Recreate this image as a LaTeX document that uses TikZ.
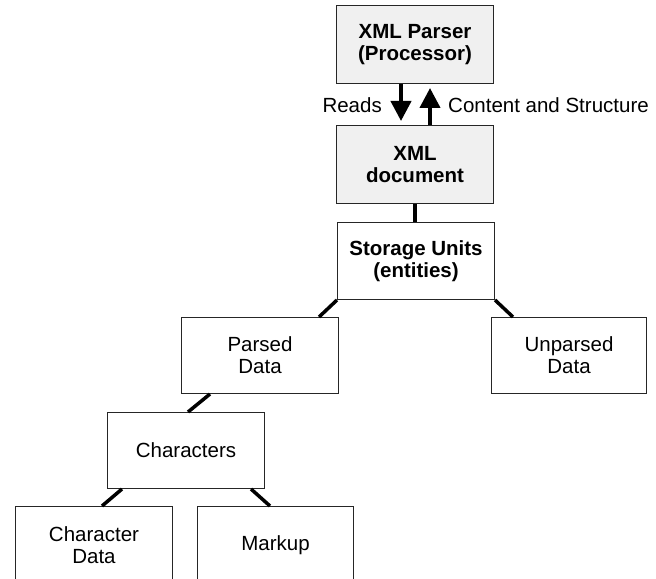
\documentclass[tikz,border=0pt]{standalone}
\usepackage{fontspec}
\setmainfont{Liberation Sans}
\usetikzlibrary{arrows.meta}
\definecolor{boxgray}{HTML}{F0F0F0}
\definecolor{edge}{HTML}{262626}
\begin{document}
\begin{tikzpicture}[x=1bp,y=-1bp,
  box/.style={draw=edge, line width=1bp, minimum width=157bp, minimum height=77bp,
    inner sep=0pt, align=center, anchor=north west,
    font=\fontsize{20.5bp}{22bp}\selectfont},
  gbox/.style={box, fill=boxgray, minimum height=78bp,
    font=\fontsize{20.5bp}{22bp}\selectfont\bfseries},
  bbox/.style={box, font=\fontsize{20.5bp}{22bp}\selectfont\bfseries},
  link/.style={line width=3.5bp},
  flow/.style={line width=4bp, -{Triangle[width=20bp,length=20bp]}, shorten >=4bp},
  lbl/.style={font=\fontsize{20.5bp}{22bp}\selectfont, inner sep=0pt}]
\clip (0,0) rectangle (656,579);
\fill[white] (0,0) rectangle (656,579);
\node[gbox] (parser) at (336,5) {XML Parser\\(Processor)};
\node[gbox] (doc) at (336,125) {XML\\document};
\node[bbox] (storage) at (337,222) {Storage Units\\(entities)};
\node[box, minimum height=76bp] (parsed) at (181,317) {Parsed\\Data};
\node[box, minimum height=76bp, minimum width=155bp] (unparsed) at (491,317) {Unparsed\\Data};
\node[box, minimum height=76bp] (chars) at (107,412) {Characters};
\node[box, minimum height=78bp] (chardata) at (15,506) {Character\\Data};
\node[box, minimum height=78bp, minimum width=156bp] (markup) at (197,506) {Markup};

\node[lbl, anchor=base east] (reads) at (382,113) {Reads};
\node[lbl, anchor=base west] (content) at (448,113) {Content and Structure};

\draw[flow] ([xshift=-14bp]parser.south) -- ([xshift=-14bp]doc.north);
\draw[flow] ([xshift=15bp]doc.north) -- ([xshift=15bp]parser.south);

\draw[link] (doc.south) -- (doc.south |- storage.north);
\draw[link] (storage.south west) -- ([xshift=-20bp]parsed.north east);
\draw[link] (storage.south east) -- ([xshift=22bp]unparsed.north west);
\draw[link] ([xshift=29bp]parsed.south west) -- ([xshift=81bp]chars.north west);
\draw[link] ([xshift=15bp]chars.south west) -- ([xshift=87bp]chardata.north west);
\draw[link] ([xshift=-14bp]chars.south east) -- ([xshift=73bp]markup.north west);
\end{tikzpicture}
\end{document}
